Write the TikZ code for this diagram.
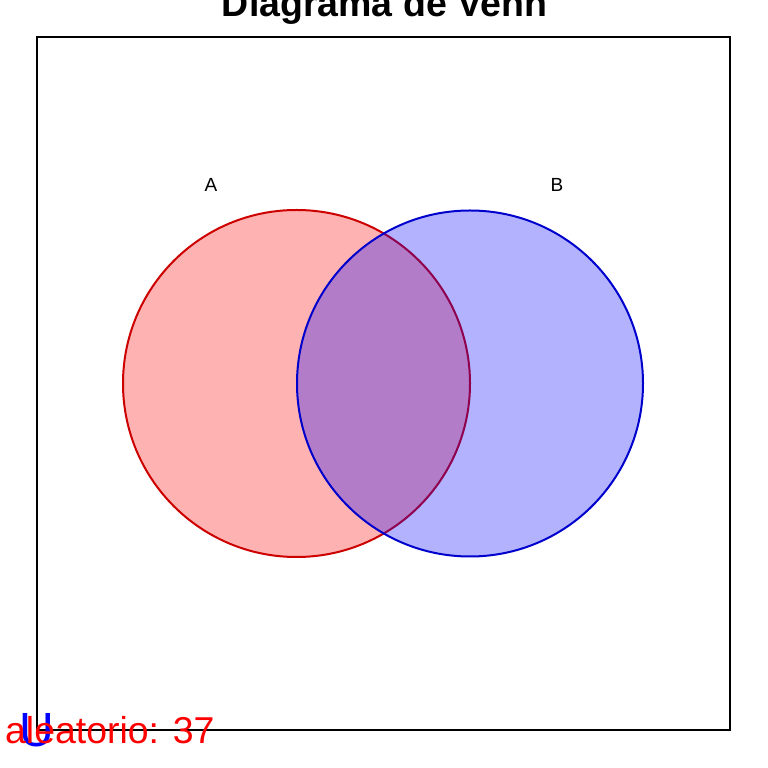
\documentclass[tikz,border=0pt]{standalone}
\usepackage{fontspec}
\setmainfont{Liberation Sans}
\definecolor{aline}{RGB}{205,0,0}
\definecolor{bline}{RGB}{0,0,205}
\begin{document}
\begin{tikzpicture}[x=1pt,y=1pt,
  setA/.style={fill=red,fill opacity=0.3,draw=aline,draw opacity=1,line width=2pt},
  setB/.style={fill=blue,fill opacity=0.3,draw=bline,draw opacity=1,line width=2pt},
  setlabel/.style={inner sep=0pt,anchor=base,font=\fontsize{19}{21}\selectfont},
]
\useasboundingbox (0,0) rectangle (768,768);
\fill[white] (0,0) rectangle (768,768);
\node[inner sep=0pt,anchor=base,font=\bfseries\fontsize{37.5}{40}\selectfont] (title) at (384.5,751) {Diagrama de Venn};
\draw[line width=2pt] (37,38) rectangle (730,731);
\coordinate (ca) at (296.5,384.5);
\coordinate (cb) at (470,384.5);
\draw[setA] (ca) circle[radius=173.5];
\draw[setB] (cb) circle[radius=173];
\node[setlabel] (la) at (211,576.5) {A};
\node[setlabel] (lb) at (557,576.5) {B};
\node[inner sep=0pt,anchor=base,text=blue,font=\fontsize{48}{50}\selectfont] (u) at (37,21.5) {U};
\node[inner sep=0pt,anchor=base west,text=red,font=\fontsize{37.4}{40}\selectfont] (rand) at (5,24) {aleatorio: 37};
\end{tikzpicture}
\end{document}
